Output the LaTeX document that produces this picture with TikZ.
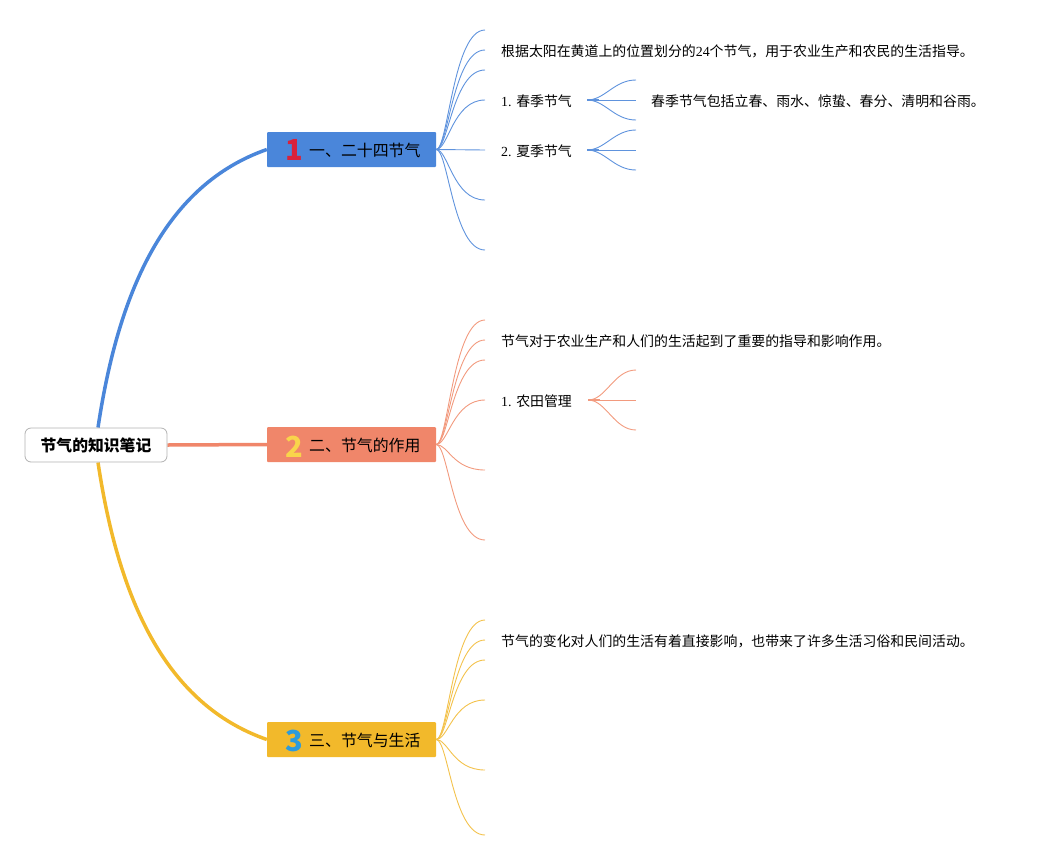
\documentclass[tikz,border=0pt]{standalone}
\usepackage{fontspec}
\setmainfont{Liberation Serif}
\newfontfamily\cjk{Noto Sans CJK SC}
\usepackage{xcolor}
\definecolor{astblau}{HTML}{4A86DA}
\definecolor{astorange}{HTML}{F0866A}
\definecolor{astgelb}{HTML}{F2B92B}
\definecolor{zweigblau}{HTML}{5F93DD}
\definecolor{zweigorange}{HTML}{F29A7E}
\definecolor{zweiggelb}{HTML}{F3C24C}
\definecolor{nrrot}{HTML}{D9213A}
\definecolor{nrgelb}{HTML}{F9D44B}
\definecolor{nrblau}{HTML}{2D9BDB}
\usetikzlibrary{positioning, calc, backgrounds}

\begin{document}
\begin{tikzpicture}[x=1pt, y=-1pt,
    wurzel/.style={rectangle, rounded corners=6pt, draw=black!30, line width=0.8pt, fill=white, minimum width=142pt, minimum height=34pt, inner sep=0pt, font=\cjk\bfseries\fontsize{15.8}{18}\selectfont},
    ast/.style={rectangle, rounded corners=1pt, minimum width=169pt, minimum height=35pt, inner sep=0pt},
    nummer/.style={inner sep=0pt, font=\cjk\bfseries\fontsize{29}{30}\selectfont},
    titel/.style={inner sep=0pt, anchor=west, font=\cjk\fontsize{15.9}{18}\selectfont},
    blatt/.style={inner sep=0pt, anchor=west, yshift=-1.5pt, font=\cjk\fontsize{13.9}{16}\selectfont},
    stamm/.style={line width=3.5pt},
    zweig/.style={line width=0.9pt},
    node distance=0pt]

        \useasboundingbox (0,0) rectangle (1047,860);

        % Wurzel
        \node[wurzel] (wurzel) at (96,445) {节气的知识笔记};

        % Erster Ast
        \node[ast, fill=astblau] (ast1) at (351.5,149.5) {};
        \node[nummer, text=nrrot] (nr1) at (294,149.5) {1};
        \node[titel] (titel1) at (309,150.5) {一、二十四节气};

        % Zweiter Ast
        \node[ast, fill=astorange] (ast2) at (351.5,444.5) {};
        \node[nummer, text=nrgelb] (nr2) at (294,446.5) {2};
        \node[titel] (titel2) at (309,445.5) {二、节气的作用};

        % Dritter Ast
        \node[ast, fill=astgelb] (ast3) at (351.5,739.5) {};
        \node[nummer, text=nrblau] (nr3) at (294.5,740.5) {3};
        \node[titel] (titel3) at (309,740.5) {三、节气与生活};

        % Stämme
        \begin{scope}[on background layer]
        \draw[stamm, astblau] ([xshift=2pt]wurzel.north) .. controls +(21,-140) and +(-100,35) .. (ast1.west);
        \draw[stamm, astorange] (wurzel.east) -- (ast2.west);
        \draw[stamm, astgelb] ([xshift=2pt]wurzel.south) .. controls +(21,140) and +(-100,-35) .. (ast3.west);
        \end{scope}

        % Enden am ersten Ast
        \coordinate (e11) at (485,30);
        \coordinate (e12) at (485,50);
        \coordinate (e13) at (485,70);
        \coordinate (e14) at (485,100);
        \coordinate (e15) at (485,150);
        \coordinate (e16) at (485,200);
        \coordinate (e17) at (485,250);

        % Texte am ersten Ast
        \node[blatt, right=16pt of e12] (k12) {根据太阳在黄道上的位置划分的{\rmfamily 24}个节气，用于农业生产和农民的生活指导。};
        \node[blatt, right=16pt of e14] (k14) {{\rmfamily 1. }春季节气};
        \node[blatt, right=16pt of e15] (k15) {{\rmfamily 2. }夏季节气};

        % Zweige am ersten Ast
        \draw[zweig, zweigblau] (ast1.east) .. controls +(12,0) and +(-32,0) .. (e11);
        \draw[zweig, zweigblau] (ast1.east) .. controls +(12,0) and +(-32,0) .. (e12);
        \draw[zweig, zweigblau] (ast1.east) .. controls +(12,0) and +(-32,0) .. (e13);
        \draw[zweig, zweigblau] (ast1.east) .. controls +(12,0) and +(-32,0) .. (e14);
        \draw[zweig, zweigblau] (ast1.east) -- (e15);
        \draw[zweig, zweigblau] (ast1.east) .. controls +(12,0) and +(-32,0) .. (e16);
        \draw[zweig, zweigblau] (ast1.east) .. controls +(12,0) and +(-32,0) .. (e17);

        % Unterzweige Frühling
        \coordinate (s14) at ([xshift=15pt]k14.east |- e14);
        \coordinate (e141) at (636,80);
        \coordinate (e142) at (636,100);
        \coordinate (e143) at (636,120);
        \node[blatt, right=15pt of e142] (k142) {春季节气包括立春、雨水、惊蛰、春分、清明和谷雨。};
        \draw[zweig, zweigblau] (s14) .. controls +(18,0) and +(-22,0) .. (e141);
        \draw[zweig, zweigblau] (s14) -- (e142);
        \draw[zweig, zweigblau] (s14) .. controls +(18,0) and +(-22,0) .. (e143);
        \draw[line width=1.6pt, zweigblau] (s14) -- ++(12,0);

        % Unterzweige Sommer
        \coordinate (s15) at ([xshift=15pt]k15.east |- e15);
        \coordinate (e151) at (636,130);
        \coordinate (e152) at (636,150);
        \coordinate (e153) at (636,170);
        \draw[zweig, zweigblau] (s15) .. controls +(18,0) and +(-22,0) .. (e151);
        \draw[zweig, zweigblau] (s15) -- (e152);
        \draw[zweig, zweigblau] (s15) .. controls +(18,0) and +(-22,0) .. (e153);
        \draw[line width=1.6pt, zweigblau] (s15) -- ++(12,0);

        % Enden am zweiten Ast
        \coordinate (e21) at (485,320);
        \coordinate (e22) at (485,340);
        \coordinate (e23) at (485,360);
        \coordinate (e24) at (485,400);
        \coordinate (e25) at (485,470);
        \coordinate (e26) at (485,540);

        % Texte am zweiten Ast
        \node[blatt, right=16pt of e22] (k22) {节气对于农业生产和人们的生活起到了重要的指导和影响作用。};
        \node[blatt, right=16pt of e24] (k24) {{\rmfamily 1. }农田管理};

        % Zweige am zweiten Ast
        \draw[zweig, zweigorange] (ast2.east) .. controls +(12,0) and +(-32,0) .. (e21);
        \draw[zweig, zweigorange] (ast2.east) .. controls +(12,0) and +(-32,0) .. (e22);
        \draw[zweig, zweigorange] (ast2.east) .. controls +(12,0) and +(-32,0) .. (e23);
        \draw[zweig, zweigorange] (ast2.east) .. controls +(12,0) and +(-32,0) .. (e24);
        \draw[zweig, zweigorange] (ast2.east) .. controls +(12,0) and +(-32,0) .. (e25);
        \draw[zweig, zweigorange] (ast2.east) .. controls +(12,0) and +(-32,0) .. (e26);

        % Unterzweige Feld
        \coordinate (s24) at ([xshift=16pt]k24.east |- e24);
        \coordinate (e241) at (636,370);
        \coordinate (e242) at (636,400);
        \coordinate (e243) at (636,430);
        \draw[zweig, zweigorange] (s24) .. controls +(18,0) and +(-22,0) .. (e241);
        \draw[zweig, zweigorange] (s24) -- (e242);
        \draw[zweig, zweigorange] (s24) .. controls +(18,0) and +(-22,0) .. (e243);
        \draw[line width=1.6pt, zweigorange] (s24) -- ++(12,0);

        % Enden am dritten Ast
        \coordinate (e31) at (485,620);
        \coordinate (e32) at (485,640);
        \coordinate (e33) at (485,660);
        \coordinate (e34) at (485,700);
        \coordinate (e35) at (485,770);
        \coordinate (e36) at (485,835);

        % Text am dritten Ast
        \node[blatt, right=16pt of e32] (k32) {节气的变化对人们的生活有着直接影响，也带来了许多生活习俗和民间活动。};

        % Zweige am dritten Ast
        \draw[zweig, zweiggelb] (ast3.east) .. controls +(12,0) and +(-32,0) .. (e31);
        \draw[zweig, zweiggelb] (ast3.east) .. controls +(12,0) and +(-32,0) .. (e32);
        \draw[zweig, zweiggelb] (ast3.east) .. controls +(12,0) and +(-32,0) .. (e33);
        \draw[zweig, zweiggelb] (ast3.east) .. controls +(12,0) and +(-32,0) .. (e34);
        \draw[zweig, zweiggelb] (ast3.east) .. controls +(12,0) and +(-32,0) .. (e35);
        \draw[zweig, zweiggelb] (ast3.east) .. controls +(12,0) and +(-32,0) .. (e36);

\end{tikzpicture}
\end{document}
